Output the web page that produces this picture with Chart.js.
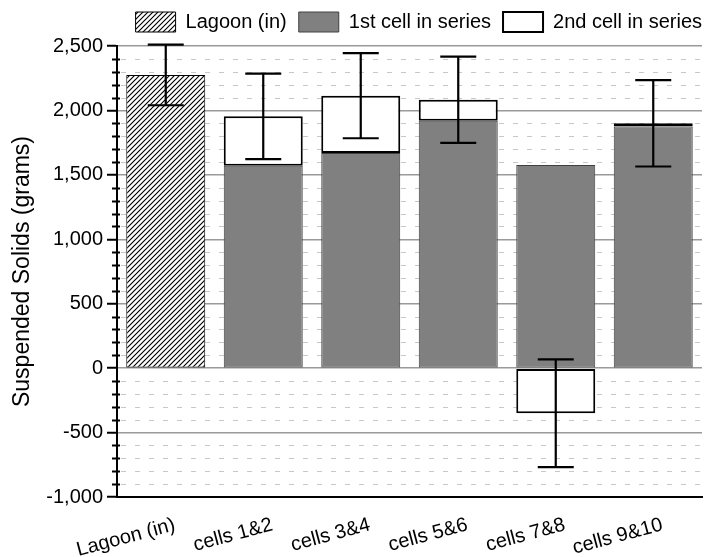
<!DOCTYPE html>
<html>
<head>
<meta charset="utf-8">
<script src="https://cdn.jsdelivr.net/npm/chart.js@4/dist/chart.umd.min.js"></script>
<style>
html,body{margin:0;padding:0;background:#fff;}
#wrap{width:709px;height:557px;}
</style>
</head>
<body>
<div id="wrap"><canvas id="c" width="709" height="557"></canvas></div>
<script>
// ---- data ----
const categories = ['Lagoon (in)', 'cells 1&2', 'cells 3&4', 'cells 5&6', 'cells 7&8', 'cells 9&10'];
const lagoonIn   = [2275, null, null, null, null, null];
const firstCell  = [null, 1570, 1670, 1920, 1576, 1876];
const secondCell = [null, 384, 444, 163, -350, 24];
const errorRange = [235, 332, 330, 335, 418, 335];
const yTickMin = -1000, yTickMax = 2500, yMajorStep = 500, yMinorStep = 100;

const FONT = "'Liberation Sans', Arial, sans-serif";
const canvas = document.getElementById('c');
const mainCtx = canvas.getContext('2d');

function makeHatch() {
  const t = document.createElement('canvas');
  t.width = 5; t.height = 5;
  const x = t.getContext('2d');
  x.fillStyle = '#fff'; x.fillRect(0, 0, 5, 5);
  x.strokeStyle = '#000'; x.lineWidth = 1.15;
  x.beginPath();
  x.moveTo(0, 5); x.lineTo(5, 0);
  x.moveTo(-1, 1); x.lineTo(1, -1);
  x.moveTo(4, 6); x.lineTo(6, 4);
  x.stroke();
  return mainCtx.createPattern(t, 'repeat');
}
const hatch = makeHatch();

const gridPlugin = {
  id: 'minorGrid',
  beforeDatasetsDraw(chart) {
    const ctx = chart.ctx, ys = chart.scales.y, a = chart.chartArea;
    ctx.save();
    for (let v = yTickMin; v <= yTickMax; v += yMinorStep) {
      const py = Math.round(ys.getPixelForValue(v)) + 0.5;
      if (v % yMajorStep !== 0) {
        ctx.strokeStyle = '#c8c8c8'; ctx.lineWidth = 1; ctx.setLineDash([5, 9]);
        ctx.beginPath(); ctx.moveTo(a.left + 4, py); ctx.lineTo(a.right, py); ctx.stroke();
        ctx.setLineDash([]);
        ctx.strokeStyle = '#000'; ctx.lineWidth = 2;
        ctx.beginPath(); ctx.moveTo(a.left - 5, py); ctx.lineTo(a.left + 3, py); ctx.stroke();
      }
    }
    ctx.restore();
  }
};

const errorPlugin = {
  id: 'errorBars',
  afterDatasetsDraw(chart) {
    const ctx = chart.ctx, ys = chart.scales.y;
    ctx.save();
    ctx.strokeStyle = '#000'; ctx.lineWidth = 2.2; ctx.lineCap = 'butt';
    categories.forEach((c, i) => {
      let v, el;
      if (lagoonIn[i] != null) { v = lagoonIn[i]; el = chart.getDatasetMeta(0).data[i]; }
      else {
        v = secondCell[i] >= 0 ? firstCell[i] + secondCell[i] : secondCell[i];
        el = chart.getDatasetMeta(2).data[i];
      }
      const x = el.x;
      const yTop = ys.getPixelForValue(v + errorRange[i]);
      const yBot = ys.getPixelForValue(v - errorRange[i]);
      const hw = 18;
      ctx.beginPath();
      ctx.moveTo(x, yTop); ctx.lineTo(x, yBot);
      ctx.moveTo(x - hw, yTop); ctx.lineTo(x + hw, yTop);
      ctx.moveTo(x - hw, yBot); ctx.lineTo(x + hw, yBot);
      ctx.stroke();
    });
    ctx.restore();
  }
};

const legendPadPlugin = {
  id: 'legendPad',
  beforeLayout(chart) {
    const lg = chart.legend;
    if (lg && !lg._padded) {
      const f = lg.fit.bind(lg);
      lg.fit = function () { f(); this.height += 4; };
      lg._padded = true;
    }
  },
  afterLayout(chart) {
    const lg = chart.legend;
    if (lg) { lg.left += 12; lg.right += 12; }
  }
};

new Chart(canvas, {
  type: 'bar',
  data: {
    labels: categories,
    datasets: [
      { label: 'Lagoon (in)', data: lagoonIn, backgroundColor: hatch, borderColor: '#000', borderWidth: 1, borderSkipped: false },
      { label: '1st cell in series', data: firstCell, backgroundColor: '#808080', borderColor: '#404040', borderWidth: 1, borderSkipped: false },
      { label: '2nd cell in series', data: secondCell, backgroundColor: '#ffffff', borderColor: '#000', borderWidth: 2, borderSkipped: false }
    ]
  },
  options: {
    responsive: false,
    animation: false,
    events: [],
    layout: { padding: { top: 0, left: 0, right: 7, bottom: 0 } },
    datasets: { bar: { categoryPercentage: 1.0, barPercentage: 0.81 } },
    plugins: {
      legend: {
        position: 'top',
        align: 'end',
        labels: {
          boxWidth: 40, boxHeight: 20, padding: 12, color: '#000',
          font: { family: FONT, size: 20 }
        }
      },
      tooltip: { enabled: false }
    },
    scales: {
      x: {
        stacked: true,
        grid: { display: false, drawTicks: false },
        border: { display: true, color: '#000', width: 2 },
        ticks: { color: '#000', font: { family: FONT, size: 20 }, minRotation: 15, maxRotation: 15, padding: 16, labelOffset: 9, autoSkip: false },
        afterFit(s) { s.height = 60; }
      },
      y: {
        stacked: true,
        min: yTickMin, max: yTickMax,
        grid: {
          drawOnChartArea: true, drawTicks: true,
          color: (c) => (c.tick && c.tick.value === yTickMin) ? 'rgba(0,0,0,0)' : '#9a9a9a',
          lineWidth: 1.5,
          tickColor: '#000', tickWidth: 2, tickLength: 10
        },
        border: { display: true, color: '#000', width: 2 },
        ticks: { stepSize: yMajorStep, color: '#000', font: { family: FONT, size: 20 }, padding: 4 },
        title: { display: true, text: 'Suspended Solids (grams)', color: '#000', font: { family: FONT, size: 23 }, padding: { top: 9, bottom: 0 } },
        afterFit(s) { s.width = 117; }
      }
    }
  },
  plugins: [gridPlugin, errorPlugin, legendPadPlugin]
});
</script>
</body>
</html>
